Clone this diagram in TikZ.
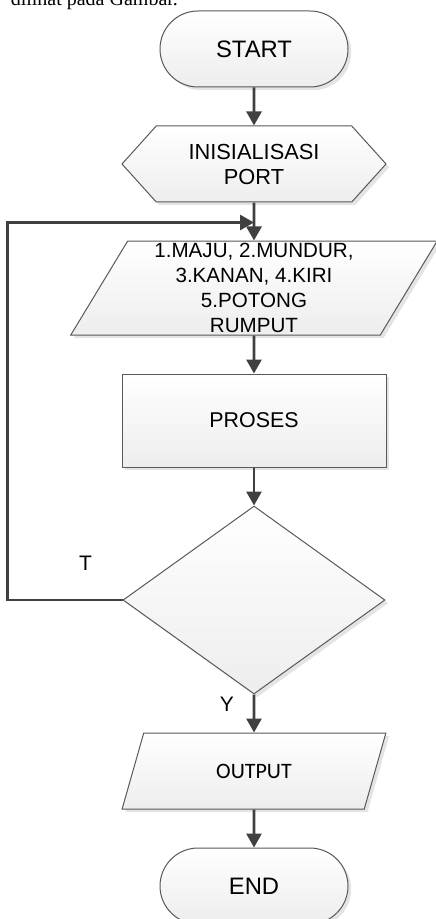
\documentclass[tikz,border=0pt]{standalone}
\usepackage{fontspec}
\setmainfont{Liberation Sans}
\newfontfamily\bodyserif{Liberation Serif}
\newfontfamily\calibfont{Carlito}
\usetikzlibrary{shapes.geometric, shapes.misc, shapes.symbols, arrows.meta, positioning, shadows}
\tikzstyle{base} = [draw=black!65, line width=0.5pt, top color=white, bottom color=gray!14, drop shadow={shadow xshift=1.6pt, shadow yshift=-1.6pt, fill=gray!35, opacity=0.6}, inner sep=0pt, align=center]
\tikzstyle{terminal} = [base, rounded rectangle, minimum width=94pt, minimum height=38pt, font=\fontsize{11.9}{14}\selectfont]
\tikzstyle{prep} = [base, signal, signal to=west and east, signal pointer angle=96, minimum width=132pt, minimum height=38pt, font=\fontsize{10.9}{12.5}\selectfont]
\tikzstyle{io} = [base, trapezium, trapezium left angle=63.4, trapezium right angle=116.6, trapezium stretches=true, minimum width=183.5pt, minimum height=47pt, font=\fontsize{10.3}{12.5}\selectfont]
\tikzstyle{outio} = [base, trapezium, trapezium left angle=62.8, trapezium right angle=117.2, trapezium stretches=true, minimum width=132pt, minimum height=38pt, font=\calibfont\fontsize{11}{13}\selectfont]
\tikzstyle{process} = [base, rectangle, minimum width=132pt, minimum height=46.5pt, font=\fontsize{10.7}{12.5}\selectfont]
\tikzstyle{decision} = [base, diamond, minimum width=131pt, minimum height=94pt]
\tikzstyle{lbl} = [font=\fontsize{10.5}{12}\selectfont]
\tikzstyle{arrow} = [line width=1.4pt, draw=black!75, -{Triangle[length=7pt,width=7.5pt]}]

\begin{document}
\begin{tikzpicture}[node distance=19pt]
    \useasboundingbox (-127pt,24.5pt) rectangle (90.5pt,-435pt);
    \node (note) [anchor=base east, font=\bodyserif\fontsize{10}{12}\selectfont] at (-34.5pt,21.5pt) {dilihat pada Gambar.};
    \node (start) [terminal] {START};
    \node (init) [prep, below=of start] {INISIALISASI\\PORT};
    \node (input) [io, below=of init] {1.MAJU, 2.MUNDUR,\\3.KANAN, 4.KIRI\\5.POTONG\\RUMPUT};
    \node (proses) [process, below=of input] {PROSES};
    \node (decide) [decision, below=of proses] {};
    \node (output) [outio, below=of decide] {OUTPUT};
    \node (finish) [terminal, below=of output] {END};

    \coordinate [below=10pt of init.south] (join);
    \coordinate [left=57.5pt of decide.west] (corner);
    \node (tlbl) [lbl] at ([xshift=-18.5pt, yshift=18.5pt]decide.west) {T};
    \node (ylbl) [lbl] at ([xshift=-13.5pt, yshift=-5pt]decide.south) {Y};

    \draw [arrow] (start) -- (init);
    \draw [arrow] (init) -- (input);
    \draw [arrow] (input) -- (proses);
    \draw [arrow] (proses) -- (decide);
    \draw [arrow] (decide) -- (output);
    \draw [arrow] (output) -- (finish);
    \draw [arrow] (decide.west) -- (corner) |- (join);
\end{tikzpicture}
\end{document}
